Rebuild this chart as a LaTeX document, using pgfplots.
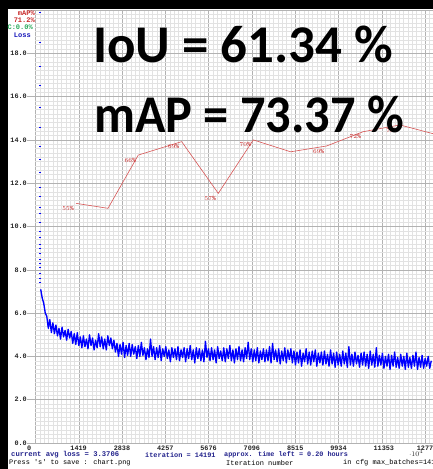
\documentclass[border=0pt]{standalone}
\usepackage{pgfplots}
\pgfplotsset{compat=1.18}
\usepackage{fontspec}
\setmainfont{Liberation Serif}
\newfontfamily\bigfont{Carlito}
\newfontfamily\monofont{Liberation Mono}
\definecolor{lossblue}{RGB}{0,0,255}
\definecolor{mapred}{RGB}{215,85,85}
\definecolor{maplabel}{RGB}{200,40,40}
\definecolor{navytext}{RGB}{35,35,140}
\definecolor{axgreen}{RGB}{80,175,130}
\definecolor{cgreen}{RGB}{40,170,90}
\definecolor{minorgrid}{RGB}{226,226,226}
\definecolor{majorgrid}{RGB}{178,178,178}

\pgfplotstableread{
x y
170 7.10
220 6.70
270 6.45
320 6.00
370 5.85
420 5.30
470 5.70
520 5.10
570 5.55
620 5.05
670 5.45
720 4.95
770 5.30
820 4.80
870 5.35
920 4.90
970 5.20
1020 4.75
1070 5.25
1120 4.85
1170 5.15
1220 4.60
1270 5.05
1320 4.55
1370 5.10
1420 4.50
1470 4.90
1520 4.40
1570 4.95
1620 4.45
1670 4.80
1720 4.35
1770 5.00
1820 4.50
1870 4.85
1920 4.30
1970 4.75
2020 4.40
2070 5.05
2120 4.45
2170 4.90
2220 4.35
2270 4.80
2320 4.30
2370 4.95
2420 4.50
2470 4.85
2520 4.35
2570 4.75
2620 4.20
2670 4.60
2720 4.00
2770 4.55
2820 4.10
2870 4.65
2920 3.95
2970 4.50
3020 4.05
3070 4.60
3120 4.00
3170 4.55
3220 4.10
3270 4.45
3320 3.90
3370 4.50
3420 4.00
3470 4.65
3520 4.05
3570 4.40
3620 3.85
3670 4.35
3720 3.95
3770 4.80
3820 4.00
3870 4.45
3920 3.85
3970 4.40
4020 3.95
4070 4.50
4120 3.80
4170 4.35
4220 4.00
4270 4.45
4320 3.90
4370 4.30
4420 3.75
4470 4.40
4520 3.95
4570 4.35
4620 3.85
4670 4.45
4720 3.80
4770 4.30
4820 3.95
4870 4.40
4920 3.75
4970 4.35
5020 3.90
5070 4.50
5120 3.85
5170 4.30
5220 3.70
5270 4.40
5320 3.90
5370 4.35
5420 3.80
5470 4.30
5520 3.75
5570 4.70
5620 3.95
5670 4.35
5720 3.80
5770 4.40
5820 3.85
5870 4.30
5920 3.70
5970 4.45
6020 3.90
6070 4.25
6120 3.80
6170 4.40
6220 3.75
6270 4.35
6320 3.90
6370 4.50
6420 3.80
6470 4.30
6520 3.70
6570 4.35
6620 3.85
6670 4.45
6720 3.80
6770 4.30
6820 3.75
6870 4.40
6920 3.90
6970 4.65
7020 3.85
7070 4.35
7120 3.75
7170 4.30
7220 3.80
7270 4.40
7320 3.70
7370 4.25
7420 3.85
7470 4.35
7520 3.75
7570 4.30
7620 3.80
7670 4.45
7720 3.70
7770 4.60
7820 3.85
7870 4.30
7920 3.75
7970 4.35
8020 3.65
8070 4.25
8120 3.80
8170 4.40
8220 3.70
8270 4.30
8320 3.85
8370 4.35
8420 3.70
8470 4.25
8520 3.60
8570 4.20
8620 3.70
8670 4.30
8720 3.55
8770 4.15
8820 3.75
8870 4.35
8920 3.65
8970 4.20
9020 3.60
9070 4.25
9120 3.75
9170 4.30
9220 3.55
9270 4.15
9320 3.70
9370 4.20
9420 3.60
9470 4.25
9520 3.65
9570 4.10
9620 3.55
9670 4.30
9720 3.65
9770 4.15
9820 3.50
9870 4.20
9920 3.60
9970 4.10
10020 3.55
10070 4.25
10120 3.65
10170 4.15
10220 3.50
10270 4.45
10320 3.60
10370 4.10
10420 3.55
10470 4.20
10520 3.65
10570 4.05
10620 3.50
10670 4.15
10720 3.60
10770 4.20
10820 3.55
10870 4.10
10920 3.45
10970 4.25
11020 3.60
11070 4.10
11120 3.50
11170 4.40
11220 3.55
11270 4.05
11320 3.60
11370 4.15
11420 3.45
11470 4.00
11520 3.55
11570 4.10
11620 3.40
11670 4.05
11720 3.55
11770 4.20
11820 3.50
11870 3.95
11920 3.45
11970 4.10
12020 3.55
12070 4.00
12120 3.40
12170 4.15
12220 3.50
12270 3.95
12320 3.45
12370 4.05
12420 3.55
12470 4.20
12520 3.40
12570 3.95
12620 3.50
12670 4.05
12720 3.45
12770 3.90
12820 3.55
12870 4.00
12920 3.45
12970 3.80
}\losstable

\pgfplotstableread{
x y
135 19.9
137 18.5
139 17.4
140 16.5
141 15.5
142 14.6
143 13.7
144 13.1
145 12.5
146 11.8
147 11.4
148 10.9
149 10.6
150 10.2
151 9.8
152 9.5
153 9.2
154 9.0
155 8.76
156 8.5
157 8.3
158 8.1
159 7.85
160 7.6
162 7.4
}\lossstart

\pgfplotstableread{
x y
1327 11.07
2376 10.84
3369 13.30
4791 13.92
5990 11.53
7137 14.00
8363 13.45
9543 13.72
10742 14.38
11945 14.69
13157 14.24
}\maptable

\pgfplotstableread{
x y m
1327 11.07 55
3369 13.30 66
4791 13.92 69
5990 11.53 57
7137 14.00 70
9543 13.72 69
10742 14.38 72
11945 14.69 73
}\maplabels

\begin{document}
\begin{tikzpicture}[x=1pt,y=1pt]
\fill[white] (0,0) rectangle (433,469);
\begin{scope}
\clip (0,0) rectangle (433,469);
\begin{axis}[
  at={(35.5pt,26pt)}, anchor=south west,
  scale only axis, width=433pt, height=433pt,
  xmin=0, xmax=14191, ymin=0, ymax=20,
  axis line style={draw=none},
  xtick={0,1419,2838,4257,5676,7096,8515,9934,11353,12772,14191},
  xticklabels={0,1419,2838,4257,5676,7096,8515,9934,11353,12772,},
  ytick={0,2,4,6,8,10,12,14,16,18,20},
  yticklabels={0.0,2.0,4.0,6.0,8.0,10.0,12.0,14.0,16.0,18.0,},
  minor xtick={0,141.91,...,14200},
  minor ytick={0,0.2,...,20.1},
  grid=both,
  minor grid style={draw=minorgrid, line width=0.45pt},
  major grid style={draw=majorgrid, line width=0.55pt},
  tick align=outside,
  major tick length=8pt, minor tick length=0pt,
  xtick style={draw=none},
  ytick style={draw=majorgrid, line width=0.55pt},
  yticklabel style={font=\monofont\bfseries\fontsize{6.8}{8}\selectfont, inner sep=0.5pt, text=black!85},
  xticklabel style={font=\monofont\bfseries\fontsize{6.8}{8}\selectfont, inner sep=0.5pt, anchor=north west, xshift=-9pt, yshift=6pt, text=black!85},
  clip=true,
]
\addplot[lossblue, line width=1.35pt, line join=round] table {\losstable};
\addplot[lossblue, only marks, mark=-, mark size=1pt, mark options={line width=0.6pt}] table {\lossstart};
\addplot[mapred, line width=0.6pt] table {\maptable};
\addplot[draw=none, nodes near coords={\pgfmathprintnumber{\pgfplotspointmeta}\%}, point meta=explicit,
  every node near coord/.append style={font=\monofont\fontsize{6.3}{7}\selectfont, text=maplabel, anchor=center, xshift=-8pt, yshift=-5pt, inner sep=0pt}]
  table[meta=m] {\maplabels};
\draw[axgreen, line width=0.8pt] (rel axis cs:0,0) -- (rel axis cs:1,0);
\end{axis}
\end{scope}
\fill[black] (0,460) rectangle (433,469);
\fill[black] (0,0) rectangle (8,469);
% legend texts
\node[anchor=east, inner sep=0pt, text=maplabel, font=\monofont\bfseries\fontsize{7}{8}\selectfont] at (35,455.5) {mAP\%};
\node[anchor=east, inner sep=0pt, text=maplabel, font=\monofont\bfseries\fontsize{7}{8}\selectfont] at (35,449) {71.2\%};
\node[anchor=east, inner sep=0pt, text=cgreen, font=\monofont\bfseries\fontsize{7}{8}\selectfont] at (33,441.5) {C:0.0\%};
\node[anchor=east, inner sep=0pt, text=navytext!60!lossblue, font=\monofont\bfseries\fontsize{7}{8}\selectfont] at (31,434) {Loss};
% big text
\node[anchor=base west, inner sep=0pt, font=\bigfont\bfseries\fontsize{53}{54}\selectfont] at (93,406) {IoU = 61.34 \%};
\node[anchor=base west, inner sep=0pt, font=\bigfont\bfseries\fontsize{53}{54}\selectfont] at (94,336) {\scalebox{0.95}[1]{mAP = 73.37 \%}};
% bottom texts
\begin{scope}
\clip (0,0) rectangle (433,469);
\node[anchor=west, inner sep=0pt, text=navytext, font=\monofont\bfseries\fontsize{7.2}{8}\selectfont] at (11,14) {current avg loss = 3.3706};
\node[anchor=west, inner sep=0pt, text=navytext, font=\monofont\bfseries\fontsize{6.9}{8}\selectfont] at (145,14) {iteration = 14191};
\node[anchor=west, inner sep=0pt, text=navytext, font=\monofont\bfseries\fontsize{6.8}{8}\selectfont] at (224,14) {approx. time left = 0.20 hours};
\node[anchor=west, inner sep=0pt, text=black, font=\monofont\fontsize{6.9}{8}\selectfont] at (9,6) {Press \char39 s\char39{} to save : chart.png};
\node[anchor=west, inner sep=0pt, text=black, font=\monofont\fontsize{7}{8}\selectfont] at (226,6) {Iteration number};
\node[anchor=west, inner sep=0pt, text=black, font=\monofont\fontsize{7}{8}\selectfont] at (343,6) {in cfg max\_batches=14191};
\end{scope}
\pgfresetboundingbox
\useasboundingbox (0,0) rectangle (433,469);
\end{tikzpicture}
\end{document}
